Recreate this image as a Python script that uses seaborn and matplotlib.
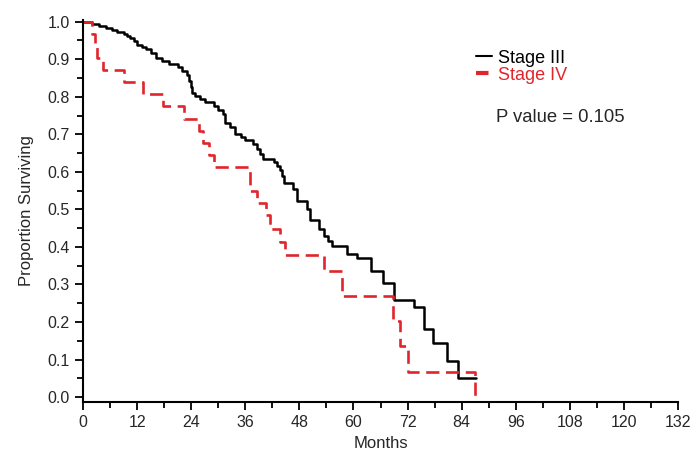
import numpy as np
import pandas as pd
import matplotlib
matplotlib.use("Agg")
import matplotlib.pyplot as plt
import seaborn as sns
from matplotlib.lines import Line2D
from matplotlib.ticker import MultipleLocator

# Kaplan-Meier step points (months, proportion surviving)
stage3_months = [0, 2.0, 3.5, 5.0, 6.5, 7.5, 9.0, 9.8, 10.4, 11.2, 12.0, 13.0, 14.0, 15.0,
                 16.2, 17.5, 19.0, 21.0, 22.0, 23.0, 23.6, 23.9, 24.1, 24.9, 26.0, 27.1,
                 29.0, 30.0, 31.0, 31.6, 32.5, 33.8, 35.0, 36.0, 37.8, 38.5, 39.2, 40.0,
                 42.3, 43.0, 43.8, 44.2, 44.5, 46.6, 47.5, 49.7, 50.4, 52.3, 53.4, 54.3,
                 55.3, 58.6, 60.8, 63.8, 66.6, 69.0, 73.4, 75.6, 77.7, 80.8, 83.2, 87.1]
stage3_surv = [1.0, 0.993, 0.988, 0.984, 0.979, 0.973, 0.968, 0.962, 0.957, 0.948, 0.939,
               0.933, 0.926, 0.916, 0.903, 0.895, 0.886, 0.878, 0.869, 0.859, 0.841, 0.825,
               0.81, 0.801, 0.793, 0.786, 0.775, 0.765, 0.754, 0.731, 0.72, 0.70, 0.693,
               0.686, 0.673, 0.66, 0.647, 0.633, 0.626, 0.616, 0.606, 0.589, 0.571, 0.555,
               0.522, 0.50, 0.473, 0.447, 0.429, 0.415, 0.402, 0.38, 0.371, 0.336, 0.305,
               0.259, 0.239, 0.181, 0.144, 0.095, 0.05, 0.05]

stage4_months = [0, 1.9, 2.7, 3.0, 4.4, 9.0, 13.2, 17.7, 22.3, 25.8, 26.7, 28.0, 29.0,
                 37.1, 38.7, 40.7, 41.4, 43.6, 44.9, 53.4, 57.5, 68.8, 70.4, 72.1, 87.0]
stage4_surv = [1.0, 0.968, 0.935, 0.903, 0.871, 0.839, 0.806, 0.774, 0.742, 0.71, 0.677,
               0.645, 0.613, 0.548, 0.516, 0.484, 0.449, 0.413, 0.378, 0.336, 0.269,
               0.203, 0.135, 0.068, 0.0]

labels = ["Stage III", "Stage IV"]
p_value = 0.105

df = pd.concat([
    pd.DataFrame({"Months": stage3_months, "Surv": stage3_surv, "Group": labels[0]}),
    pd.DataFrame({"Months": stage4_months, "Surv": stage4_surv, "Group": labels[1]}),
])

sns.set_style("ticks")
plt.rcParams["font.family"] = ["Liberation Sans", "DejaVu Sans"]
narrow = ["Liberation Sans Narrow", "Liberation Sans"]

red = "#e0262c"
fig = plt.figure(figsize=(7, 4.65), dpi=100)
ax = fig.add_axes([0.1186, 0.1355, 0.85, 0.822])

sns.lineplot(data=df[df.Group == labels[0]], x="Months", y="Surv", color="black",
             drawstyle="steps-post", estimator=None, sort=False, lw=1.8, ax=ax)
sns.lineplot(data=df[df.Group == labels[1]], x="Months", y="Surv", color=red,
             drawstyle="steps-post", estimator=None, sort=False, lw=1.9,
             dashes=False, ax=ax)
ax.lines[-1].set_dashes([5, 2.5])

ax.set_xlim(0, 132)
ax.set_ylim(-0.013, 1.005)
ax.xaxis.set_major_locator(MultipleLocator(12))
ax.xaxis.set_minor_locator(MultipleLocator(6))
ax.yaxis.set_minor_locator(MultipleLocator(0.05))
ax.set_yticks(np.arange(0, 1.01, 0.1))
ax.set_yticklabels([f"{v:.1f}" for v in np.arange(0, 1.01, 0.1)])
ax.tick_params(which="major", length=6, width=1.3, labelsize=11.5, color="black")
ax.tick_params(which="minor", length=4, width=1.3, color="black")
for lab in ax.get_xticklabels() + ax.get_yticklabels():
    lab.set_family(narrow)
sns.despine(ax=ax)
for s in ["left", "bottom"]:
    ax.spines[s].set_linewidth(1.5)
    ax.spines[s].set_color("black")

ax.set_xlabel("Months", fontsize=12, family=narrow)
ax.set_ylabel("Proportion Surviving", fontsize=12, family=narrow, labelpad=10)

handles = [Line2D([], [], color="black", lw=1.5),
           Line2D([], [], color=red, lw=3, dashes=[3, 2])]
leg = fig.legend(handles, labels, loc="upper left", bbox_to_anchor=(0.657, 0.928),
                 frameon=False, fontsize=13, handlelength=0.9, handletextpad=0.3,
                 labelspacing=0.0)
leg.get_texts()[0].set_color("black")
leg.get_texts()[1].set_color(red)

fig.text(0.709, 0.748, f"P value = {p_value}", fontsize=13.3, va="center")

fig.savefig("out.png", dpi=100)
